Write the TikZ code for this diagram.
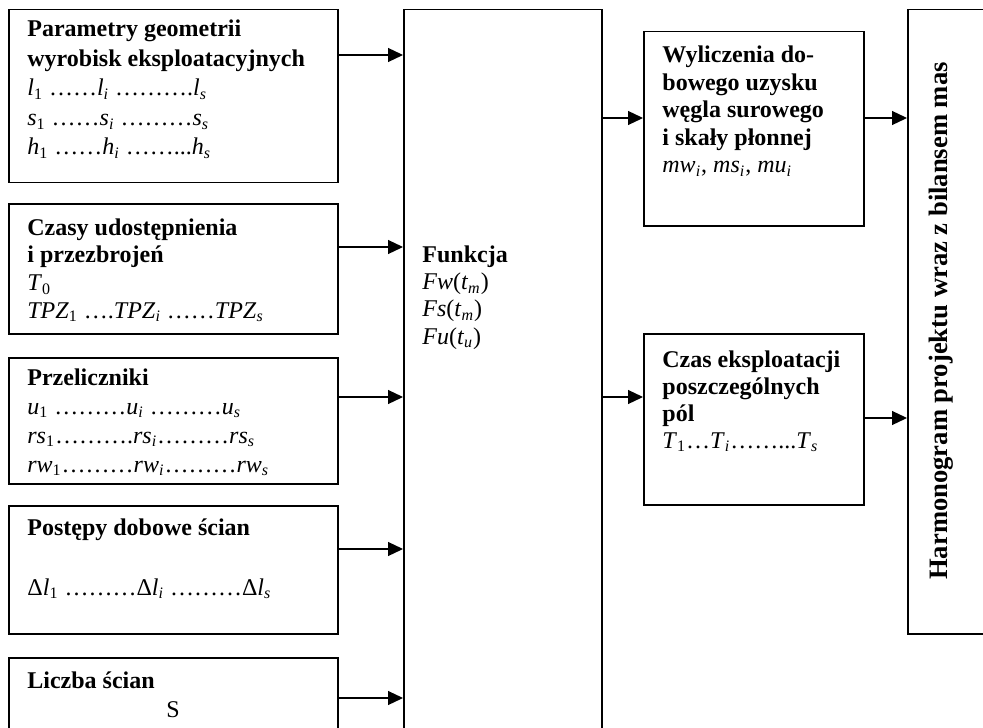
\documentclass[tikz,border=0pt]{standalone}
\usepackage{fontspec}
\setmainfont{Liberation Serif}
\usetikzlibrary{arrows.meta}
\newcommand\ssub[1]{\textsubscript{#1}}
\newcommand\isub[1]{\textsubscript{\itshape #1}}
\begin{document}
\begin{tikzpicture}[x=0.5pt,y=-0.5pt,
  boxst/.style={draw,line width=0.75pt,inner sep=0pt,anchor=north west,rectangle},
  txt/.style={anchor=base west,inner sep=0pt,align=left},
  fs/.style={font=\fontsize{12}{#1}\selectfont},
  arr/.style={line width=0.6pt,-{Triangle[length=7.5pt,width=7pt]}}]
\useasboundingbox (0,0) rectangle (983,727);
\fill[white] (0,0) rectangle (983,727);
\clip (0,0) rectangle (983,727);

% boxes
\node[boxst,minimum width=164.5pt,minimum height=86.5pt] (b1) at (8,9) {};
\node[boxst,minimum width=164.5pt,minimum height=65pt] (b2) at (8,203) {};
\node[boxst,minimum width=164.5pt,minimum height=63pt] (b3) at (8,357) {};
\node[boxst,minimum width=164.5pt,minimum height=64pt] (b4) at (8,505) {};
\node[boxst,minimum width=164.5pt,minimum height=60pt] (b5) at (8,657) {};
\node[boxst,minimum width=99pt,minimum height=380pt] (fn) at (403,9) {};
\node[boxst,minimum width=110pt,minimum height=97pt] (wy) at (643,31) {};
\node[boxst,minimum width=110pt,minimum height=85.5pt] (cz) at (643,333) {};
\node[boxst,minimum width=60pt,minimum height=312pt] (hm) at (907,9) {};

% texts (anchor base = baseline of the last line)
\node[txt,fs=14.75pt] (t1) at (27,155) {\bfseries Parametry geometrii\\
  \bfseries wyrobisk eksploatacyjnych\\
  \textit{l}\ssub{1} ……\textit{l}\isub{i} ……….\textit{l}\isub{s}\\
  \textit{s}\ssub{1} ……\textit{s}\isub{i} ………\textit{s}\isub{s}\\
  \textit{h}\ssub{1} ……\textit{h}\isub{i} ……...\textit{h}\isub{s}};

\node[txt,fs=13.8pt] (t2) at (27,318) {\bfseries Czasy udostępnienia\\
  \bfseries i przezbrojeń\\
  \textit{T}\ssub{0}\\
  \textit{TPZ}\ssub{1} ….\textit{TPZ}\isub{i} ……\textit{TPZ}\isub{s}};

\node[txt,fs=14.5pt] (t3) at (27,472) {\bfseries Przeliczniki\\
  \textit{u}\ssub{1} ………\textit{u}\isub{i} ………\textit{u}\isub{s}\\
  \textit{rs}\ssub{1}……….\textit{rs}\isub{i}………\textit{rs}\isub{s}\\
  \textit{rw}\ssub{1}………\textit{rw}\isub{i}………\textit{rw}\isub{s}};

\node[txt,fs=13.8pt] (t4) at (27,595) {\bfseries Postępy dobowe ścian\\[16.2pt]
  Δ\textit{l}\ssub{1} ………Δ\textit{l}\isub{i} ………Δ\textit{l}\isub{s}};

\node[txt,fs=13.8pt] (t5) at (27,688) {\bfseries Liczba ścian};
\node[txt,fs=13.8pt] (t5s) at (166,717) {S};

\node[txt,fs=13.65pt] (tf) at (422,344) {\bfseries Funkcja\\
  \textit{Fw}(\textit{t}\isub{m})\\
  \textit{Fs}(\textit{t}\isub{m})\\
  \textit{Fu}(\textit{t}\isub{u})};

\node[txt,fs=13.75pt] (tw) at (662,173) {\bfseries Wyliczenia do-\\
  \bfseries bowego uzysku\\
  \bfseries węgla surowego\\
  \bfseries i skały płonnej\\
  \textit{mw}\isub{i}, \textit{ms}\isub{i}, \textit{mu}\isub{i}};

\node[txt,fs=13.5pt] (tc) at (662,448) {\bfseries Czas eksploatacji\\
  \bfseries poszczególnych\\
  \bfseries pól\\
  \textit{T}\ssub{1}…\textit{T}\isub{i}……...\textit{T}\isub{s}};

\node[inner sep=0pt,rotate=90,font=\fontsize{13.3}{16}\selectfont\bfseries] (th) at (941,321)
  {Harmonogram projektu wraz z bilansem mas};

% connectors
\draw[arr] (b1.east |- 0,55) -- (fn.west |- 0,55);
\draw[arr] (b2.east |- 0,247) -- (fn.west |- 0,247);
\draw[arr] (b3.east |- 0,397) -- (fn.west |- 0,397);
\draw[arr] (b4.east |- 0,549) -- (fn.west |- 0,549);
\draw[arr] (b5.east |- 0,698) -- (fn.west |- 0,698);
\draw[arr] (fn.east |- 0,118) -- (wy.west |- 0,118);
\draw[arr] (fn.east |- 0,397) -- (cz.west |- 0,397);
\draw[arr] (wy.east |- 0,118) -- (hm.west |- 0,118);
\draw[arr] (cz.east |- 0,418) -- (hm.west |- 0,418);
\end{tikzpicture}
\end{document}
